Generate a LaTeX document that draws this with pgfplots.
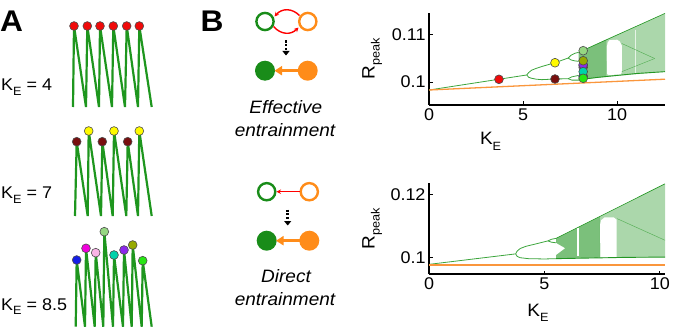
\documentclass[border=0pt]{standalone}
\usepackage{pgfplots}
\pgfplotsset{compat=1.18}
\usepackage{fontspec}
\setmainfont{Liberation Sans}[FakeStretch=1.06]
\usetikzlibrary{arrows.meta}

\definecolor{bgreen}{RGB}{35,150,35}
\definecolor{lgreenline}{RGB}{60,165,60}
\definecolor{tgreen}{RGB}{30,150,30}
\definecolor{sgreen}{RGB}{25,140,25}
\definecolor{sorange}{RGB}{255,140,25}
\definecolor{lorange}{RGB}{250,150,60}
\definecolor{cred}{RGB}{240,10,10}
\definecolor{cyellow}{RGB}{255,250,0}
\definecolor{cmaroon}{RGB}{120,15,15}
\definecolor{cblue}{RGB}{20,30,230}
\definecolor{cmagenta}{RGB}{240,0,220}
\definecolor{cpink}{RGB}{250,180,230}
\definecolor{clgreen}{RGB}{150,215,130}
\definecolor{ccyan}{RGB}{0,210,170}
\definecolor{cpurple}{RGB}{140,40,235}
\definecolor{colive}{RGB}{150,170,0}
\definecolor{cgreen}{RGB}{40,230,20}

\newcommand{\sub}[1]{\raisebox{-0.28em}{\fontsize{12}{12}\selectfont #1}}

\pgfplotsset{
 dot/.style={only marks, mark=*, mark size=4.4bp, mark options={fill=#1, draw=black!70, line width=0.6bp}},
 bif/.style={
 scale only axis, width=236bp,
 axis x line=bottom, axis y line=left,
 axis line style={-, line width=1.4bp, black},
 every outer x axis line/.append style={-},
 every outer y axis line/.append style={-},
 every tick/.style={black, line width=1bp},
 major tick length=3.5bp, tick align=inside,
 xtick={0,5,10}, xticklabels={0,5,10},
 tick label style={font=\fontsize{17}{17}\selectfont},
 /pgf/number format/assume math mode=true,
 xmin=0,
 xlabel={K\sub{E}}, ylabel={R\sub{peak}},
 label style={font=\fontsize{18}{18}\selectfont, inner sep=0pt},
 ylabel style={at={([xshift=-54.5bp]axis description cs:0,0.5)}, anchor=base},
 }}

\begin{document}
\begin{tikzpicture}
\path[use as bounding box] (0,0) rectangle (673bp,328bp);

% ---------- overlay axis in pixel coordinates (panel A and schematics)
\begin{axis}[at={(0,0)}, anchor=south west, width=673bp, height=328bp, scale only axis,
  xmin=0, xmax=673, ymin=0, ymax=328, y dir=reverse, hide axis, clip=false]
% traces
\addplot[tgreen, line width=2.2bp] coordinates {(73,107)(74,26)(86,107)(87.3,26)(99,107)(100,26)(112,107)(113.3,26)(125,107)(126.7,26)(138,107)(139.3,26)(151.7,107)};
\addplot[tgreen, line width=2.2bp] coordinates {(75,216)(76.7,141.7)(87.7,216)(88.7,131)(101,216)(102.3,141.7)(112.7,216)(114,131)(126.3,216)(127.7,141.7)(138,216)(139.3,131)(151.7,216)};
\addplot[tgreen, line width=2.2bp] coordinates {(75.7,326.7)(76.7,260)(85,326.7)(86,248.3)(94.7,326.7)(95.7,252.7)(103.3,326.7)(104.3,231.7)(113,326.7)(114,255)(123,326.7)(124,250)(131.7,326.7)(132.7,245)(141.7,326.7)(142.7,260.7)(151.7,326.7)};
% dots row 1
\addplot[dot=cred] coordinates {(74,26)(87.3,26)(100,26)(113.3,26)(126.7,26)(139.3,26)};
% row 2
\addplot[dot=cmaroon] coordinates {(76.7,141.7)(102.3,141.7)(127.7,141.7)};
\addplot[dot=cyellow] coordinates {(88.7,131)(114,131)(139.3,131)};
% row 3
\addplot[dot=cblue] coordinates {(76.7,260)};
\addplot[dot=cmagenta] coordinates {(86,248.3)};
\addplot[dot=cpink] coordinates {(95.7,252.7)};
\addplot[dot=clgreen] coordinates {(104.3,231.7)};
\addplot[dot=ccyan] coordinates {(114,255)};
\addplot[dot=cpurple] coordinates {(124,250)};
\addplot[dot=colive] coordinates {(132.7,245)};
\addplot[dot=cgreen] coordinates {(142.7,260.7)};

% panel letters and labels
\node[anchor=base west, inner sep=0, font=\bfseries\fontsize{30}{30}\selectfont] at (axis cs:0,31.7) {A};
\node[anchor=base west, inner sep=0, font=\bfseries\fontsize{30}{30}\selectfont] at (axis cs:200.5,31.7) {B};
\node[anchor=base west, inner sep=0, font=\fontsize{17}{17}\selectfont] at (axis cs:1,90.7) {K\sub{E} = 4};
\node[anchor=base west, inner sep=0, font=\fontsize{17}{17}\selectfont] at (axis cs:1,198.3) {K\sub{E} = 7};
\node[anchor=base west, inner sep=0, font=\fontsize{17}{17}\selectfont] at (axis cs:1,310) {K\sub{E} = 8.5};

% schematic: effective entrainment
\draw[sgreen, line width=2.4bp] (axis cs:265,21.5) circle[radius=8.6bp];
\draw[sorange, line width=2.4bp] (axis cs:307.8,21.5) circle[radius=8.6bp];
\draw[red, line width=1.4bp, -{Stealth[length=4.5bp,width=4.5bp]}] (axis cs:299.5,15.5) .. controls (axis cs:292,8) and (axis cs:282,8) .. (axis cs:274.5,16.5);
\draw[red, line width=1.4bp, -{Stealth[length=4.5bp,width=4.5bp]}] (axis cs:273.5,26.5) .. controls (axis cs:281,35) and (axis cs:291,35) .. (axis cs:298.5,27.5);
\draw[black, line width=2.5bp, dash pattern=on 2.2bp off 1.5bp, -{Triangle[length=4.5bp,width=7bp]}] (axis cs:286,40.5) -- (axis cs:286,55.5);
\fill[sgreen] (axis cs:265,70.7) circle[radius=10bp];
\fill[sorange] (axis cs:307.7,70.7) circle[radius=10bp];
\draw[sorange, line width=3bp, -{Triangle[length=7.5bp,width=9bp]}] (axis cs:299,70.7) -- (axis cs:274.5,70.7);
\node[anchor=base, inner sep=0, font=\itshape\fontsize{18}{18}\selectfont] at (axis cs:285.8,113.3) {Effective};
\node[anchor=base, inner sep=0, font=\itshape\fontsize{18}{18}\selectfont] at (axis cs:285,136.7) {entrainment};

% schematic: direct entrainment
\draw[sgreen, line width=2.4bp] (axis cs:266.7,191.7) circle[radius=8.6bp];
\draw[sorange, line width=2.4bp] (axis cs:309.3,191.7) circle[radius=8.6bp];
\draw[red, line width=1.3bp, -{Stealth[length=4.5bp,width=4.5bp]}] (axis cs:299.5,191.7) -- (axis cs:276.5,191.7);
\draw[black, line width=2.5bp, dash pattern=on 2.2bp off 1.5bp, -{Triangle[length=4.5bp,width=7bp]}] (axis cs:287.7,209.5) -- (axis cs:287.7,225.5);
\fill[sgreen] (axis cs:266.7,240.7) circle[radius=10bp];
\fill[sorange] (axis cs:309.3,240.7) circle[radius=10bp];
\draw[sorange, line width=3bp, -{Triangle[length=7.5bp,width=9bp]}] (axis cs:300.5,240.7) -- (axis cs:276,240.7);
\node[anchor=base, inner sep=0, font=\itshape\fontsize{18}{18}\selectfont] at (axis cs:286,282.7) {Direct};
\node[anchor=base, inner sep=0, font=\itshape\fontsize{18}{18}\selectfont] at (axis cs:285,305.7) {entrainment};
\end{axis}

% ---------- top bifurcation diagram (effective)
\begin{axis}[bif, at={(429bp,223bp)}, anchor=south west, height=92bp,
  xmax=12.55, ymin=0.09511, ymax=0.11468,
  ytick={0.1,0.11}, yticklabels={0.1,0.11},
  xlabel style={at={([yshift=-40bp]axis description cs:0.261,0)}, anchor=base}]
% chaotic bands
\addplot[fill=bgreen, fill opacity=0.6, draw=none] coordinates {(7.95,0.1004)(7.95,0.1014)(8.35,0.1028)(7.95,0.1044)(7.95,0.1063)(9.45,0.1091)(9.45,0.1011)(8.2,0.1006)} -- cycle;
\addplot[fill=bgreen, fill opacity=0.38, draw=none] coordinates {(9.45,0.1011)(9.45,0.1091)(12.55,0.1146)(12.55,0.1022)} -- cycle;
% periodic window
\addplot[fill=white, draw=none] coordinates {(9.47,0.1017)(9.46,0.1075)(9.5,0.1084)(9.6,0.1089)(10.0,0.1090)(10.15,0.1086)(10.25,0.1078)(10.26,0.1022)(10.2,0.1016)(9.55,0.1015)} -- cycle;
\addplot[white, line width=1bp, opacity=0.7] coordinates {(10.96,0.1020)(10.96,0.1110)};
\addplot[bgreen, line width=0.5bp, opacity=0.6] coordinates {(10.25,0.1082)(12.0,0.1050)};
\addplot[bgreen, line width=0.5bp, opacity=0.6] coordinates {(10.25,0.1022)(12.0,0.1050)};
% envelopes
\addplot[bgreen, line width=0.9bp] coordinates {(7.95,0.1004)(8.2,0.1006)(9,0.1010)(10,0.1014)(11,0.1018)(12.55,0.1022)};
\addplot[bgreen, line width=0.6bp] coordinates {(7.95,0.1063)(12.55,0.1146)};
% periodic branches
\addplot[lgreenline, line width=0.8bp] coordinates {(0,0.0983)(5.2,0.1015)};
\addplot[lgreenline, line width=0.8bp] coordinates {(5.2,0.1015)(5.3,0.1020)(5.45,0.1025)(5.7,0.1029)(6.0,0.1033)(6.7,0.1041)(7.4,0.1051)};
\addplot[lgreenline, line width=0.8bp] coordinates {(5.2,0.1015)(5.3,0.1010)(5.45,0.1008)(5.7,0.1006)(6.0,0.1005)(6.7,0.10064)(7.4,0.1007)};
\addplot[lgreenline, line width=0.8bp] coordinates {(7.4,0.1051)(7.55,0.1057)(7.75,0.1061)(7.95,0.1063)};
\addplot[lgreenline, line width=0.8bp] coordinates {(7.4,0.1051)(7.55,0.1047)(7.75,0.1045)(7.95,0.1044)};
\addplot[lgreenline, line width=0.8bp] coordinates {(7.4,0.1007)(7.6,0.1011)(7.95,0.1014)};
\addplot[lgreenline, line width=0.8bp] coordinates {(7.4,0.1007)(7.6,0.1004)(7.95,0.1004)};
% orange (driving oscillator)
\addplot[lorange, line width=1.3bp] coordinates {(0,0.0983)(12.55,0.1006)};
% markers
\addplot[dot=cred] coordinates {(3.72,0.10057)};
\addplot[dot=cyellow] coordinates {(6.7,0.1041)};
\addplot[dot=cmaroon] coordinates {(6.7,0.10064)};
\addplot[dot=cblue] coordinates {(8.2,0.1012)};
\addplot[dot=cpink] coordinates {(8.2,0.1031)};
\addplot[dot=cmagenta] coordinates {(8.2,0.1035)};
\addplot[dot=cpurple] coordinates {(8.2,0.1037)};
\addplot[dot=ccyan] coordinates {(8.2,0.1022)};
\addplot[dot=cgreen] coordinates {(8.2,0.10079)};
\addplot[dot=colive] coordinates {(8.2,0.10453)};
\addplot[dot=clgreen] coordinates {(8.2,0.10666)};
\end{axis}

% ---------- bottom bifurcation diagram (direct)
\begin{axis}[bif, at={(429bp,54bp)}, anchor=south west, height=91bp,
  xmax=10.22, ymin=0.09486, ymax=0.12356,
  ytick={0.1,0.12}, yticklabels={0.1,0.12},
  xlabel style={at={([yshift=-42.7bp]axis description cs:0.462,0)}, anchor=base}]
\addplot[fill=bgreen, fill opacity=0.6, draw=none] coordinates {(5.5,0.0997)(5.5,0.1008)(5.9,0.1030)(5.5,0.1047)(5.5,0.1061)(7.4,0.1130)(7.4,0.1000)} -- cycle;
\addplot[fill=bgreen, fill opacity=0.38, draw=none] coordinates {(7.4,0.1000)(7.4,0.1130)(10.22,0.1233)(10.22,0.1002)} -- cycle;
\addplot[fill=white, draw=none] coordinates {(7.42,0.1002)(7.41,0.1105)(7.45,0.1118)(7.6,0.1127)(8.0,0.1127)(8.12,0.1120)(8.13,0.1003)(8.0,0.1001)} -- cycle;
\addplot[white, line width=1.2bp] coordinates {(6.45,0.1005)(6.45,0.1093)};
\addplot[bgreen, line width=0.5bp, opacity=0.6] coordinates {(8.15,0.1123)(10.22,0.1055)};
\addplot[bgreen, line width=0.9bp] coordinates {(5.5,0.0997)(7,0.0999)(8.5,0.1001)(10.22,0.1002)};
\addplot[bgreen, line width=0.6bp] coordinates {(5.5,0.1061)(10.22,0.1233)};
\addplot[lgreenline, line width=0.8bp] coordinates {(0,0.0979)(3.75,0.1012)};
\addplot[lgreenline, line width=0.8bp] coordinates {(3.75,0.1012)(3.82,0.1021)(3.95,0.1029)(4.2,0.1036)(4.6,0.1043)(5.15,0.1053)};
\addplot[lgreenline, line width=0.8bp] coordinates {(3.75,0.1012)(3.82,0.1004)(3.95,0.1000)(4.3,0.0997)(5.0,0.0996)(5.5,0.0997)};
\addplot[lgreenline, line width=0.8bp] coordinates {(5.15,0.1053)(5.3,0.1058)(5.5,0.1061)};
\addplot[lgreenline, line width=0.8bp] coordinates {(5.15,0.1053)(5.3,0.1049)(5.5,0.1047)};
\addplot[lorange, line width=1.3bp] coordinates {(0,0.0977)(10.22,0.0977)};
\end{axis}
\end{tikzpicture}
\end{document}
